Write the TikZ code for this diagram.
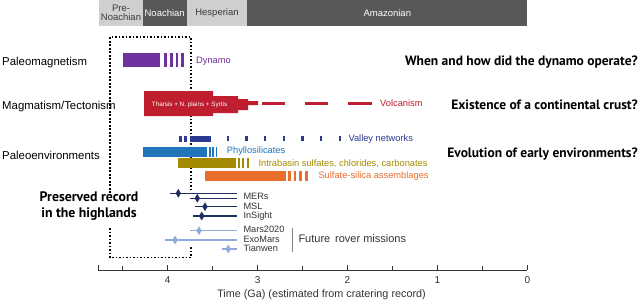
\documentclass[tikz,border=0pt]{standalone}
\usepackage{fontspec}
\setmainfont{Liberation Sans}
\newfontfamily\askfont{PT Sans}
\usetikzlibrary{shapes.geometric}
\definecolor{eraL}{HTML}{CFCFCF}
\definecolor{eraD}{HTML}{58585A}
\definecolor{eraT}{HTML}{3C3C3C}
\definecolor{dynC}{HTML}{7030A0}
\definecolor{volC}{HTML}{BE1E2D}
\definecolor{valC}{HTML}{2B3990}
\definecolor{phyC}{HTML}{2474BC}
\definecolor{intC}{HTML}{A38A00}
\definecolor{sulC}{HTML}{E96D2B}
\definecolor{misD}{HTML}{1F2E5E}
\definecolor{misL}{HTML}{8FAADC}
\definecolor{axC}{HTML}{333333}
\newcommand{\fs}[1]{\fontsize{#1}{#1}\selectfont}
\tikzset{
  era/.style={inner sep=0pt,minimum height=26pt,align=center,font=\fontsize{9.5}{8.6}\selectfont},
  rowlab/.style={anchor=base west,inner sep=0pt,font=\fs{11.4}},
  ask/.style={anchor=base east,inner sep=0pt,font=\askfont\bfseries\fs{13.5}},
  rec/.style={anchor=base,inner sep=0pt,font=\askfont\bfseries\fs{13.8}},
  tag/.style={anchor=base west,inner sep=0pt,font=\fs{9.3}},
  mis/.style={anchor=base west,inner sep=0pt,font=\fs{9.2},text=axC},
  dia/.style={diamond,inner sep=0pt,minimum width=5.5pt,minimum height=9pt},
  tick/.style={anchor=base,inner sep=0pt,font=\fs{10},text=axC},
  dot/.style={line width=1.6pt,dash pattern=on 1.6pt off 1.9pt},
  mline/.style={line width=1.5pt}
}

\begin{document}
\begin{tikzpicture}[x=1pt,y=-1pt]
\useasboundingbox (0,0) rectangle (640,301);
\fill[white] (0,0) rectangle (640,301);

% eras
\node[era,fill=eraL,text=eraT,minimum width=43.4pt] (prenoa) at (121,13) {Pre-\\Noachian};
\node[era,fill=eraD,text=white,minimum width=44pt] (noa) at (164.7,13) {Noachian};
\node[era,fill=eraL,text=eraT,minimum width=60.6pt] (hes) at (217,13) {Hesperian};
\node[era,fill=eraD,text=white,minimum width=280pt] (ama) at (387.3,13) {Amazonian};

% preserved record box
\draw[dot] (110,193) -- (110,37) -- (191,37) -- (191,190);
\draw[dot] (110,228) -- (110,257.3) -- (191,257.3) -- (191,247);
\node[rec] (rec1) at (89,201.7) {Preserved record};
\node[rec] (rec2) at (89,217.3) {in the highlands};

% rows
\node[rowlab] (pmag) at (2,65.7) {Paleomagnetism};
\node[rowlab] (mag) at (2,109.3) {Magmatism/Tectonism};
\node[rowlab] (penv) at (2,159.3) {Paleoenvironments};
\node[ask] (q1) at (638,65.7) {When and how did the dynamo operate?};
\node[ask] (q2) at (638,109) {Existence of a continental crust?};
\node[ask] (q3) at (638,157.3) {Evolution of early environments?};

% dynamo
\fill[dynC] (122.7,52.5) rectangle (160,66.7);
\foreach \s in {164,170,175.7,181.3}
  \fill[dynC] (\s,52.5) rectangle +(2.5,14.2);
\node[tag,text=dynC] (dyn) at (196,63.3) {Dynamo};

% volcanism
\fill[volC] (144,91) -- (213,91) -- (213,96) -- (238,96) -- (238,99) -- (248,99)
  -- (248,101) -- (258,101) -- (258,105) -- (248,105) -- (248,110) -- (238,110)
  -- (238,113) -- (213,113) -- (213,116) -- (144,116) -- cycle;
\node[anchor=base west,inner sep=0pt,font=\fs{6.3},text=white] (thar) at (151.7,106) {Tharsis + N. plains + Syrtis};
\foreach \a in {261.7,305,348.3}
  \draw[volC,line width=2.4pt] (\a,103.3) -- +(23.3,0);
\node[tag,text=volC] (volc) at (380,106.5) {Volcanism};

% valley networks
\fill[valC] (179.3,135.5) rectangle (181.7,141.5);
\fill[valC] (184.3,135.5) rectangle (186.7,141.5);
\fill[valC] (190,135.5) rectangle (211,141.5);
\foreach \a in {226.7,245.3,264,282.7,301.3,320,338.5}
  \fill[valC] (\a,136) rectangle +(2.4,4.7);
\node[tag,text=valC] (val) at (348.3,141.7) {Valley networks};

% phyllosilicates
\fill[phyC] (143.3,146.7) rectangle (207.3,156.7);
\foreach \s in {208.8,212.3,215.5}
  \fill[phyC] (\s,146.7) rectangle +(1.8,10);
\node[tag,text=phyC] (phy) at (226.7,153.3) {Phyllosilicates};

% intrabasin
\fill[intC] (178.3,158.3) rectangle (236,168.3);
\foreach \s in {237.5,242,246.5}
  \fill[intC] (\s,158.3) rectangle +(2.4,10);
\node[tag,text=intC] (intb) at (258.3,166) {Intrabasin sulfates, chlorides, carbonates};

% sulfate-silica
\fill[sulC] (205,171) rectangle (286,180.5);
\foreach \s in {288.3,293.7,299,305}
  \fill[sulC] (\s,171) rectangle +(2.7,9.5);
\node[tag,text=sulC] (sul) at (318.3,178.3) {Sulfate-silica assemblages};

% missions
\draw[misD,mline] (170,193.3) -- (237.3,193.3);
\node[dia,fill=misD] (mer1) at (178.3,193.3) {};
\draw[misD,mline] (190,198.3) -- (237.3,198.3);
\node[dia,fill=misD] (mer2) at (197.3,198.3) {};
\draw[misD,mline] (195,206.7) -- (237.3,206.7);
\node[dia,fill=misD] (msl) at (205,206.7) {};
\draw[misD,mline] (193.3,216) -- (237.3,216);
\node[dia,fill=misD] (ins) at (201.7,216) {};
\draw[misL,mline] (190,230.7) -- (237.3,230.7);
\node[dia,fill=misL] (m20) at (199,230.7) {};
\draw[misL,mline] (165,240) -- (237.3,240);
\node[dia,fill=misL] (exo) at (175,240) {};
\draw[misL,mline] (221.7,249) -- (237.3,249);
\node[dia,fill=misL] (tw) at (228.3,249) {};
\node[mis] (lmer) at (243.3,199.3) {MERs};
\node[mis] (lmsl) at (243.3,209.3) {MSL};
\node[mis] (lins) at (243.3,218.3) {InSight};
\node[mis] (lm20) at (243.3,232.3) {Mars2020};
\node[mis] (lexo) at (243.3,242.3) {ExoMars};
\node[mis] (ltw) at (243.3,251.7) {Tianwen};
\draw[gray,line width=0.8pt] (292.7,228) -- (292.7,251.7);
\node[anchor=base west,inner sep=0pt,font=\fs{11},text=axC] (fut) at (298.3,242.7) {Future\, rover missions};

% time axis
\draw[axC,line width=0.8pt] (98.5,264.5) -- (98.5,270) -- (527.3,270);
\foreach \t in {0,...,4}{
  \pgfmathsetmacro{\xx}{527.3-89.9*\t}
  \draw[axC,line width=0.8pt] (\xx,270) -- (\xx,264.5);
  \node[tick] (t\t) at (\xx,283.3) {\t};
}
\foreach \t in {0.5,1.5,2.5,3.5,4.5}{
  \pgfmathsetmacro{\xx}{527.3-89.9*\t}
  \draw[axC,line width=0.8pt] (\xx,270) -- (\xx,266);
}
\node[anchor=base,inner sep=0pt,font=\fs{10.8},text=axC] (tax) at (321.5,297) {Time (Ga) (estimated from cratering record)};
\end{tikzpicture}
\end{document}
